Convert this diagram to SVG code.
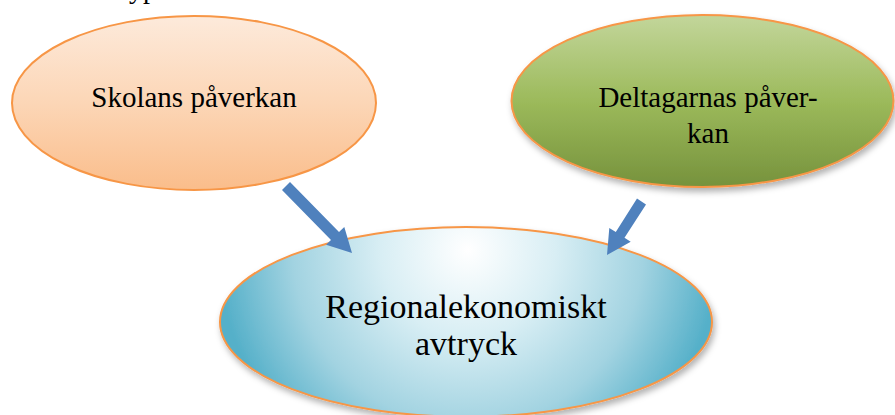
<svg xmlns="http://www.w3.org/2000/svg" width="895" height="415" viewBox="0 0 895 415">
<defs>
<linearGradient id="gOrange" x1="0" y1="0" x2="0" y2="1">
<stop offset="0" stop-color="#fdeadb"/>
<stop offset="0.5" stop-color="#fcd6b6"/>
<stop offset="1" stop-color="#fabd8b"/>
</linearGradient>
<linearGradient id="gGreen" x1="0" y1="0" x2="0" y2="1">
<stop offset="0" stop-color="#c3d69b"/>
<stop offset="0.5" stop-color="#9cba5b"/>
<stop offset="1" stop-color="#76923c"/>
</linearGradient>
<radialGradient id="gBlue" gradientUnits="userSpaceOnUse" cx="468" cy="250" r="250" fx="468" fy="250">
<stop offset="0" stop-color="#ffffff"/>
<stop offset="0.35" stop-color="#d8eef4"/>
<stop offset="0.7" stop-color="#a2d3e1"/>
<stop offset="1" stop-color="#55b0c9"/>
</radialGradient>
<filter id="shadow" x="-10%" y="-10%" width="125%" height="130%">
<feDropShadow dx="2" dy="4" stdDeviation="3" flood-color="#000" flood-opacity="0.3"/>
</filter>
</defs>
<style>
.node ellipse { stroke: #f79646; stroke-width: 2; }
.lbl { font-family: "Liberation Serif", "Times New Roman", serif; fill: #000; text-anchor: middle; }
.arrow { fill: #4f81bd; stroke: none; }
</style>
<text class="lbl" x="143" y="-2" font-size="28">yp</text>
<g id="skolans" class="node">
<ellipse cx="194" cy="103" rx="182" ry="87" fill="url(#gOrange)"/>
<text class="lbl" x="194" y="107" font-size="29">Skolans påverkan</text>
</g>
<g id="deltagarnas" class="node">
<ellipse cx="702.5" cy="101" rx="191" ry="86" fill="url(#gGreen)" filter="url(#shadow)"/>
<text class="lbl" x="708" y="107" font-size="29">Deltagarnas påver-</text>
<text class="lbl" x="708" y="143" font-size="29">kan</text>
</g>
<g id="regional" class="node">
<ellipse cx="466" cy="322" rx="246" ry="95" fill="url(#gBlue)" filter="url(#shadow)"/>
<text class="lbl" x="466" y="318" font-size="34">Regionalekonomiskt</text>
<text class="lbl" x="466" y="355" font-size="34">avtryck</text>
</g>
<g id="connectors">
<polygon class="arrow" points="290,182 339,232 344.3,227 352,253 326.1,244.8 331,240 282,190"/>
<polygon class="arrow" points="637,198.5 615.8,232.1 609.3,227.9 607,255 630.7,241.7 624.5,237.8 646,204.5"/>
</g>
</svg>
